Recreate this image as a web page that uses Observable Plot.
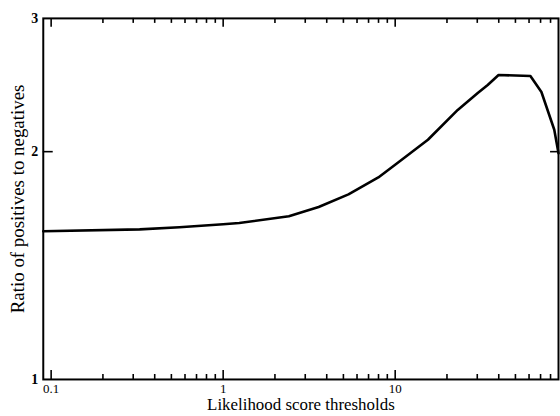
<!DOCTYPE html>
<html>
<head>
<meta charset="utf-8">
<script src="https://cdn.jsdelivr.net/npm/d3@7"></script>
<script src="https://cdn.jsdelivr.net/npm/@observablehq/plot@0.6"></script>
<style>
  html, body { margin: 0; padding: 0; background: #fff; overflow: hidden; }
</style>
</head>
<body>
<div id="chart"></div>
<script>
const thresholds = [0.09, 0.327, 0.557, 1, 1.24, 2.41, 3.59, 5.35, 7.98, 10.4, 15.5, 23.1, 30.2, 34.5, 39.9, 61.1, 70.8, 84.1, 89];
const ratios =     [1.570, 1.579, 1.589, 1.604, 1.610, 1.643, 1.690, 1.756, 1.849, 1.935, 2.074, 2.271, 2.391, 2.450, 2.525, 2.518, 2.398, 2.138, 1.99];

const xMajorTicks = [0.1, 1, 10];
const xMinorTicks = [0.2, 0.3, 0.4, 0.5, 0.6, 0.7, 0.8, 0.9, 2, 3, 4, 5, 6, 7, 8, 9, 20, 30, 40, 50, 60, 70, 80];
const xTickLabels = ["0.1", "1", "10"];
const yMajorTicks = [2];
const yTickValues = [1, 2, 3];
const yTickLabels = ["1", "2", "3"];

const xTitle = "Likelihood score thresholds";
const yTitle = "Ratio of positives to negatives";

const data = thresholds.map((t, i) => ({t, r: ratios[i]}));

const W = 563, H = 416, mT = 18, mB = 35, mL = 43, mR = 2;
const innerW = W - mL - mR, innerH = H - mT - mB;

const chart = Plot.plot({
  width: W,
  height: H,
  marginTop: mT,
  marginBottom: mB,
  marginLeft: mL,
  marginRight: mR,
  style: {fontFamily: "'Liberation Serif', 'Times New Roman', serif", fontSize: "14px", color: "#000", background: "#fff"},
  x: {type: "log", domain: [0.09, 89], axis: null},
  y: {type: "log", domain: [1, 3], axis: null},
  marks: [
    // bottom ticks (inward)
    Plot.tickX(xMinorTicks, {x: d => d, insetTop: innerH - 5, stroke: "#000", strokeWidth: 1.6}),
    Plot.tickX(xMajorTicks, {x: d => d, insetTop: innerH - 9, stroke: "#000", strokeWidth: 1.6}),
    // top ticks (inward)
    Plot.tickX(xMinorTicks, {x: d => d, insetBottom: innerH - 5, stroke: "#000", strokeWidth: 1.6}),
    Plot.tickX(xMajorTicks, {x: d => d, insetBottom: innerH - 9, stroke: "#000", strokeWidth: 1.6}),
    // left / right ticks
    Plot.tickY(yMajorTicks, {y: d => d, insetRight: innerW - 10, stroke: "#000", strokeWidth: 1.6}),
    Plot.tickY(yMajorTicks, {y: d => d, insetLeft: innerW - 8, stroke: "#000", strokeWidth: 1.6}),
    // tick labels
    Plot.text(xMajorTicks, {x: d => d, frameAnchor: "bottom", dy: 9, lineAnchor: "middle", textAnchor: "middle",
      text: d => xTickLabels[xMajorTicks.indexOf(d)], fontSize: 13, fill: "#000"}),
    Plot.text(yTickValues, {y: d => d, frameAnchor: "left", dx: -5, textAnchor: "end", lineAnchor: "middle",
      text: d => yTickLabels[yTickValues.indexOf(d)], fontSize: 14, fontWeight: "bold", fill: "#000"}),
    Plot.frame({stroke: "#000", strokeWidth: 2}),
    Plot.line(data, {x: "t", y: "r", stroke: "#000", strokeWidth: 2.6, strokeLinejoin: "round"}),
    Plot.text([xTitle], {frameAnchor: "bottom", dy: 25.5, lineAnchor: "middle", textAnchor: "middle", fontSize: 17, text: d => d, fill: "#000"}),
    Plot.text([yTitle], {frameAnchor: "left", dx: -25, rotate: -90, lineAnchor: "middle", textAnchor: "middle", fontSize: 19, text: d => d, fill: "#000"})
  ]
});
document.getElementById("chart").appendChild(chart);
</script>
</body>
</html>
